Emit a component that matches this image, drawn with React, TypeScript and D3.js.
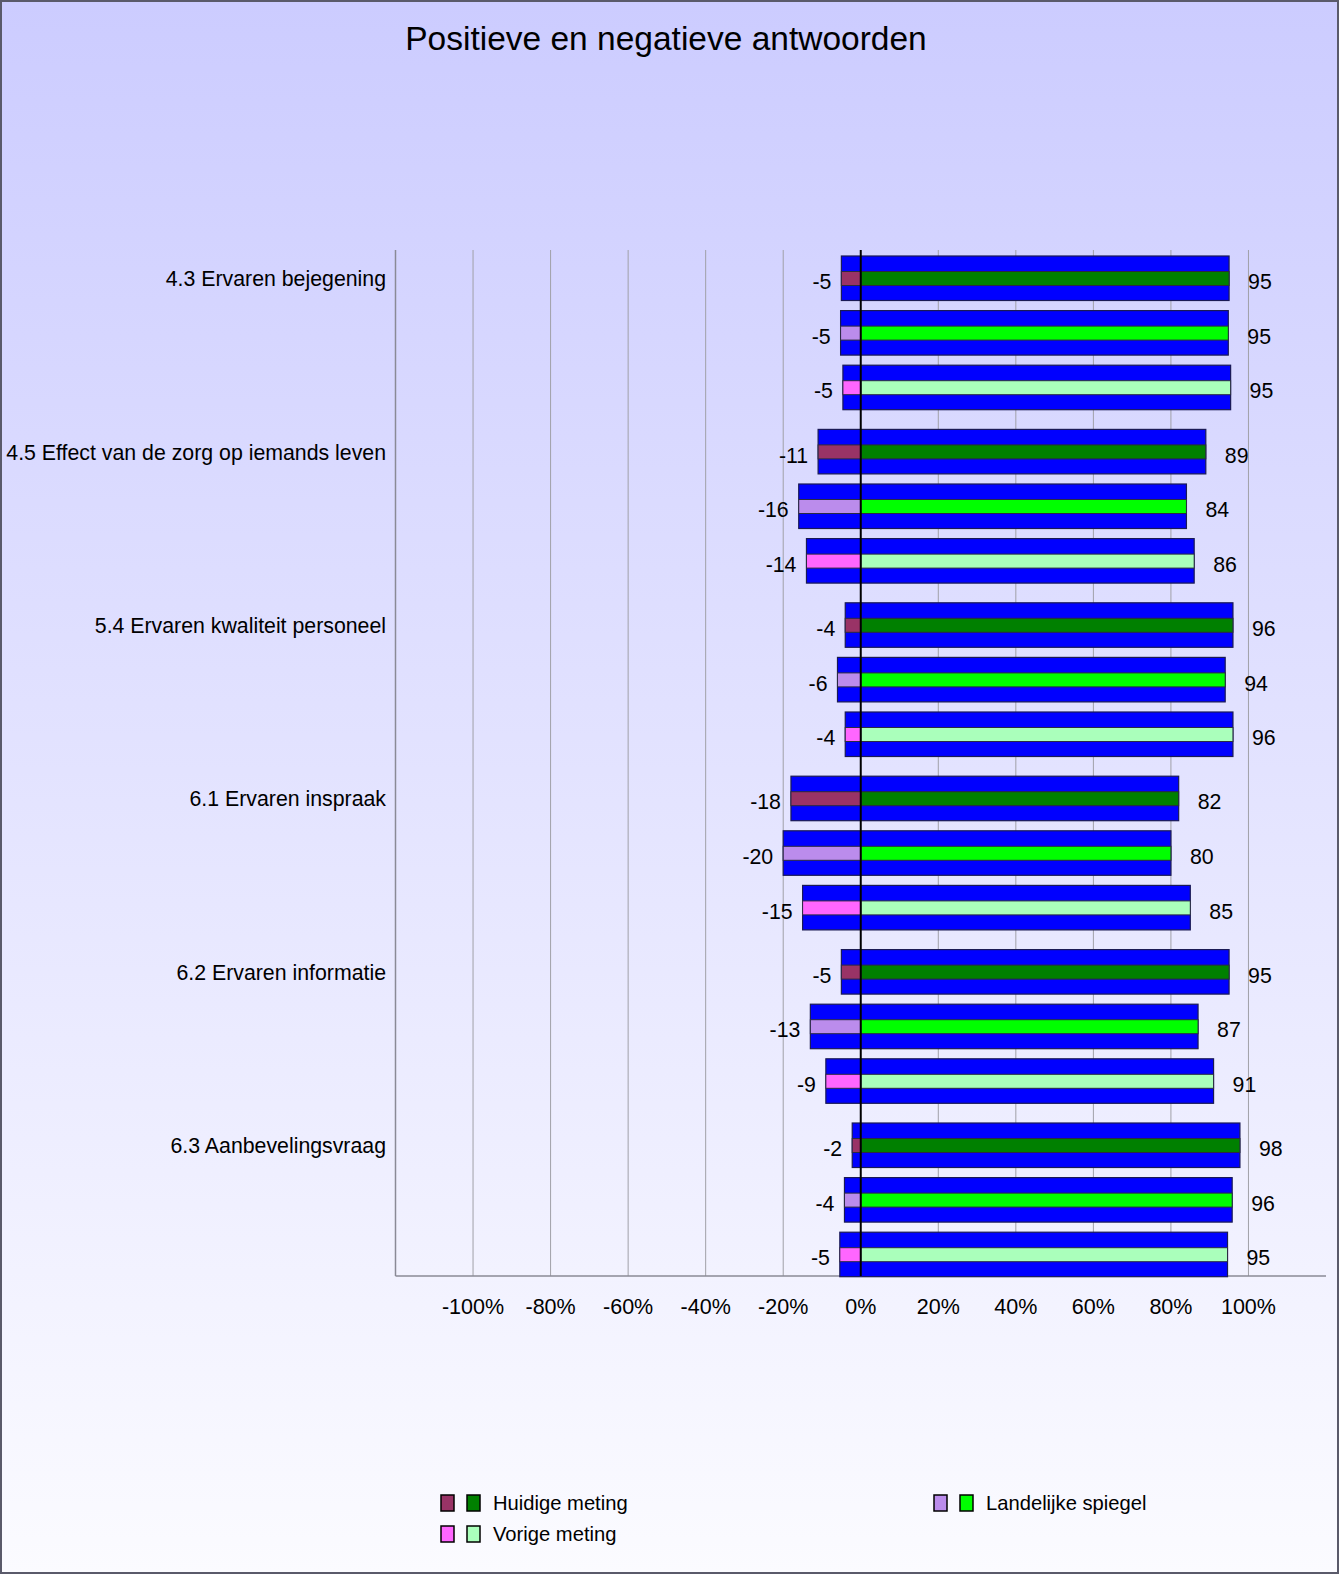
import React from "react";
import * as d3 from "d3";

const categories = [
  "4.3 Ervaren bejegening",
  "4.5 Effect van de zorg op iemands leven",
  "5.4 Ervaren kwaliteit personeel",
  "6.1 Ervaren inspraak",
  "6.2 Ervaren informatie",
  "6.3 Aanbevelingsvraag",
];

const seriesNames = ["Huidige meting", "Landelijke spiegel", "Vorige meting"];

// negative / positive share per category, per series
const negHuidige = [-5, -11, -4, -18, -5, -2.2];
const posHuidige = [95, 89, 96, 82, 95, 97.8];
const negLandelijk = [-5.2, -16, -6, -20, -13, -4.2];
const posLandelijk = [94.8, 84, 94, 80, 87, 95.8];
const negVorige = [-4.6, -14, -4, -15, -9, -5.4];
const posVorige = [95.4, 86, 96, 85, 91, 94.6];

const xTicks = [-100, -80, -60, -40, -20, 0, 20, 40, 60, 80, 100];

const negColors = ["#993366", "#bb8cec", "#ff66ff"];
const posColors = ["#008000", "#00ff00", "#aaffbb"];

const W = 1339;
const H = 1574;
const plot = {left: 395.5, right: 1326, top: 250, bottom: 1276};
const font = "'Liberation Sans', Arial, sans-serif";

export default function App() {
  const x = d3.scaleLinear().domain([-120, 120]).range([plot.left, plot.right]);
  const groupStep = 173.4;
  const yGroup = d3
    .scaleBand<string>()
    .domain(categories)
    .range([plot.top + 6, plot.top + 6 + groupStep * categories.length])
    .paddingInner(0)
    .paddingOuter(0);
  const ySeries = d3.scaleLinear().domain([0, 1]).range([0, 54.6]);
  const barH = 44.5;

  const negs = [negHuidige, negLandelijk, negVorige];
  const poss = [posHuidige, posLandelijk, posVorige];

  const bars = categories.flatMap((c, ci) =>
    seriesNames.map((s, si) => ({
      cat: c,
      si,
      neg: negs[si][ci],
      pos: poss[si][ci],
      y: (yGroup(c) as number) + ySeries(si),
    }))
  );

  const fmt = (v: number) => `${v}%`;

  return (
    <div style={{position: "absolute", left: 0, top: 0}}>
      <svg width={W} height={H} style={{display: "block"}}>
        <defs>
          <linearGradient id="bg" x1="0" y1="0" x2="0" y2="1">
            <stop offset="0" stopColor="#ccccff" />
            <stop offset="1" stopColor="#fbfbff" />
          </linearGradient>
        </defs>
        <rect x={1} y={1} width={W - 2} height={H - 2} fill="url(#bg)" stroke="#5a5a6a" strokeWidth={2} />

        <text x={666} y={50} textAnchor="middle" fontFamily={font} fontSize={33.5} fill="#000">
          Positieve en negatieve antwoorden
        </text>

        {/* grid */}
        {xTicks.filter((t) => t !== 0).map((t) => (
          <line key={t} x1={x(t)} x2={x(t)} y1={plot.top} y2={plot.bottom} stroke="#a0a0a8" strokeWidth={1} />
        ))}
        <line x1={plot.left} x2={plot.left} y1={plot.top} y2={plot.bottom} stroke="#8a8a96" strokeWidth={1.5} />
        <line x1={plot.left} x2={plot.right} y1={plot.bottom} y2={plot.bottom} stroke="#8a8a96" strokeWidth={1.5} />

        {/* tick labels */}
        {xTicks.map((t) => (
          <text key={t} x={x(t)} y={1314} textAnchor="middle" fontFamily={font} fontSize={21.5} fill="#000">
            {fmt(t)}
          </text>
        ))}

        {/* category labels */}
        {categories.map((c) => (
          <text key={c} x={386} y={(yGroup(c) as number) + barH / 2 + 8} textAnchor="end" fontFamily={font} fontSize={21.3} fill="#000">
            {c}
          </text>
        ))}

        {/* bars */}
        {bars.map((b, i) => {
          const x0 = x(b.neg);
          const x1 = x(b.pos);
          const z = x(0);
          const sy = b.y + 15.5;
          const sh = 14;
          return (
            <g key={i}>
              <rect x={x0} y={b.y} width={x1 - x0} height={barH} fill="#0000ff" stroke="#1a1a55" strokeWidth={1.2} />
              <rect x={x0} y={sy} width={z - x0} height={sh} fill={negColors[b.si]} stroke="#2a2a40" strokeWidth={1} />
              <rect x={z} y={sy} width={x1 - z} height={sh} fill={posColors[b.si]} stroke="#2a2a40" strokeWidth={1} />
              <text x={x0 - 10} y={b.y + barH / 2 + 11} textAnchor="end" fontFamily={font} fontSize={21.3} fill="#000">
                {Math.round(b.neg)}
              </text>
              <text x={x1 + 19} y={b.y + barH / 2 + 11} textAnchor="start" fontFamily={font} fontSize={21.3} fill="#000">
                {Math.round(b.pos)}
              </text>
            </g>
          );
        })}

        {/* zero line */}
        <line x1={x(0)} x2={x(0)} y1={plot.top} y2={plot.bottom} stroke="#000" strokeWidth={2} />

        {/* legend */}
        {[
          {si: 0, sx: 441, ty: 1503},
          {si: 2, sx: 441, ty: 1534},
          {si: 1, sx: 934, ty: 1503},
        ].map((l) => (
          <g key={l.si}>
            <rect x={l.sx} y={l.ty - 8} width={13} height={16} fill={negColors[l.si]} stroke="#000" strokeWidth={1.5} />
            <rect x={l.sx + 26} y={l.ty - 8} width={13} height={16} fill={posColors[l.si]} stroke="#000" strokeWidth={1.5} />
            <text x={l.sx + 52} y={l.ty + 7} fontFamily={font} fontSize={20.2} fill="#000">
              {seriesNames[l.si]}
            </text>
          </g>
        ))}
      </svg>
    </div>
  );
}
